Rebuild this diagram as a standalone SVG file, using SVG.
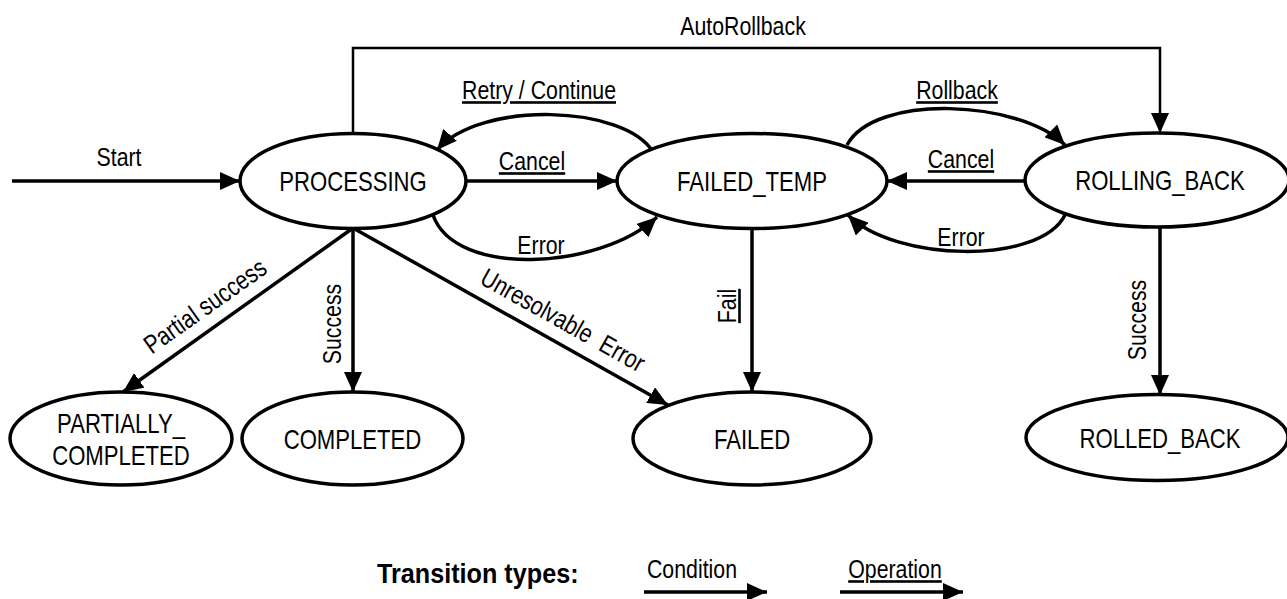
<svg xmlns="http://www.w3.org/2000/svg" width="1287" height="599" viewBox="0 0 1287 599">
<style>
.node ellipse{fill:#fff;stroke:#000;stroke-width:3.5}
.nt{font-family:'Liberation Sans',Arial,sans-serif;font-size:27px;text-anchor:middle;fill:#000}
.lbl{font-family:'Liberation Sans',Arial,sans-serif;font-size:26px;text-anchor:middle;fill:#000}
.op{text-decoration:underline}
.edge{fill:none;stroke:#000;stroke-width:3.5;marker-end:url(#ah)}
.thin{stroke-width:2.5}
.legend{font-family:'Liberation Sans',Arial,sans-serif;font-size:28px;font-weight:bold;fill:#000}
</style>
<defs>
<marker id="ah" viewBox="0 0 20 18" markerWidth="20" markerHeight="18" refX="20" refY="9" orient="auto" markerUnits="userSpaceOnUse"><path d="M0,0 L20,9 L0,18 z" fill="#000"/></marker>
</defs>
<rect width="1287" height="599" fill="#fff"/>
<g id="connectors">
<path class="edge" d="M12,181 L240,181"/>
<path class="edge thin" d="M353,133 V48 H1160 V133"/>
<path class="edge" d="M653,152 C625,105 480,100 437,150"/>
<path class="edge" d="M466,181 L617,181"/>
<path class="edge" d="M433,215 C455,278 600,270 657,217"/>
<path class="edge" d="M847,145 C875,93 1020,100 1065,145"/>
<path class="edge" d="M1025,181 L887,181"/>
<path class="edge" d="M1065,215 C1040,265 895,262 848,215"/>
<path class="edge" d="M353,228 L123,392"/>
<path class="edge" d="M353,228 L353,392"/>
<path class="edge" d="M353,228 L668,405"/>
<path class="edge" d="M752,228 L752,392"/>
<path class="edge" d="M1160,227 L1160,395"/>
<text class="lbl" transform="translate(119,166) scale(0.82,1)">Start</text>
<text class="lbl" transform="translate(743,35) scale(0.82,1)">AutoRollback</text>
<text class="lbl op" transform="translate(539,99) scale(0.82,1)">Retry / Continue</text>
<text class="lbl op" transform="translate(532,170) scale(0.82,1)">Cancel</text>
<text class="lbl" transform="translate(541,254) scale(0.82,1)">Error</text>
<text class="lbl op" transform="translate(957,99) scale(0.82,1)">Rollback</text>
<text class="lbl op" transform="translate(961,168) scale(0.82,1)">Cancel</text>
<text class="lbl" transform="translate(961,246) scale(0.82,1)">Error</text>
<text class="lbl" transform="translate(205,306) rotate(-35.3) scale(0.82,1)" y="9">Partial success</text>
<text class="lbl" transform="translate(332,324) rotate(-90) scale(0.82,1)" y="9">Success</text>
<text class="lbl" transform="translate(563,320) rotate(29.3) scale(0.82,1)" y="9" xml:space="preserve">Unresolvable  Error</text>
<text class="lbl op" transform="translate(727,306) rotate(-90) scale(0.82,1)" y="9">Fail</text>
<text class="lbl" transform="translate(1137,320) rotate(-90) scale(0.82,1)" y="9">Success</text>
</g>
<g id="PROCESSING" class="node"><ellipse cx="353" cy="181" rx="113" ry="47.5"/><text class="nt" transform="translate(353,191) scale(0.82,1)">PROCESSING</text></g>
<g id="FAILED_TEMP" class="node"><ellipse cx="752" cy="181" rx="135" ry="47.5"/><text class="nt" transform="translate(752,191) scale(0.82,1)">FAILED_TEMP</text></g>
<g id="ROLLING_BACK" class="node"><ellipse cx="1157" cy="180" rx="132" ry="47"/><text class="nt" transform="translate(1160,190) scale(0.82,1)">ROLLING_BACK</text></g>
<g id="PARTIALLY_COMPLETED" class="node"><ellipse cx="121" cy="438.5" rx="111" ry="46.5"/><text class="nt" transform="translate(121,433) scale(0.82,1)">PARTIALLY_</text><text class="nt" transform="translate(121,465) scale(0.82,1)">COMPLETED</text></g>
<g id="COMPLETED" class="node"><ellipse cx="352.5" cy="438.5" rx="110.5" ry="46.5"/><text class="nt" transform="translate(352.5,449) scale(0.82,1)">COMPLETED</text></g>
<g id="FAILED" class="node"><ellipse cx="752" cy="438.5" rx="119" ry="46.5"/><text class="nt" transform="translate(752,449) scale(0.82,1)">FAILED</text></g>
<g id="ROLLED_BACK" class="node"><ellipse cx="1157" cy="437.5" rx="131" ry="43"/><text class="nt" transform="translate(1160,448) scale(0.82,1)">ROLLED_BACK</text></g>
<g id="legend">
<text class="legend" transform="translate(377,583) scale(0.9,1)">Transition types:</text>
<text class="lbl" transform="translate(692,578) scale(0.82,1)">Condition</text>
<path class="edge" d="M644,592 L767,592"/>
<text class="lbl op" transform="translate(895,578) scale(0.82,1)">Operation</text>
<path class="edge" d="M840,592 L963,592"/>
</g>
</svg>
